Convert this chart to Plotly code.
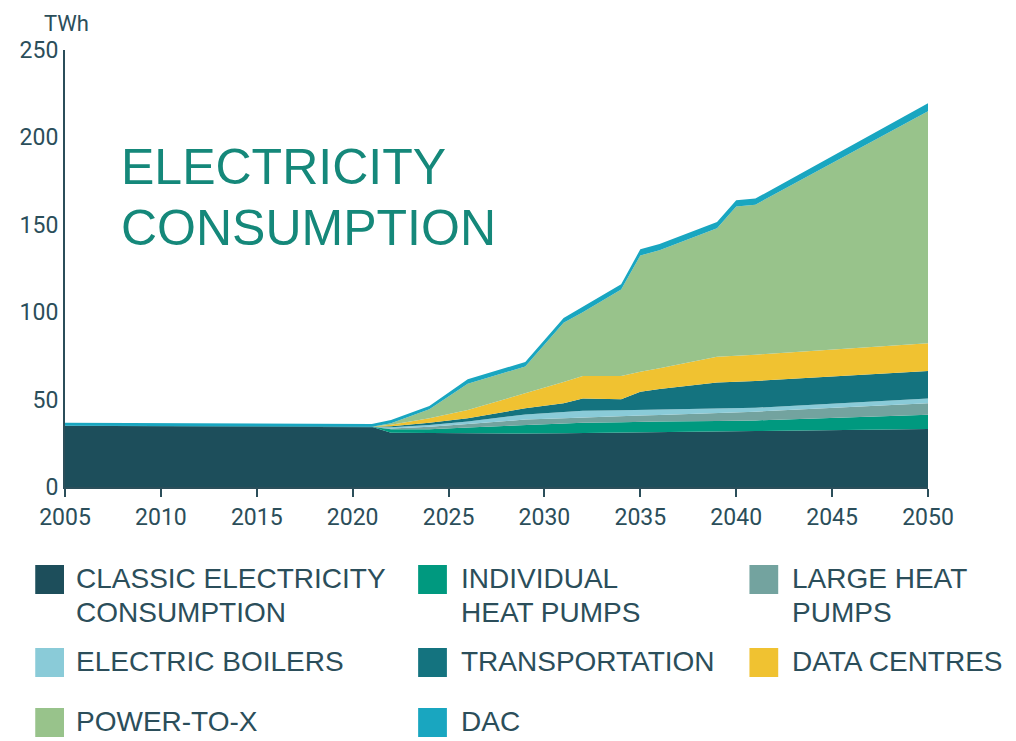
import plotly.graph_objects as go

# ---- data (TWh) ----
years = [2005, 2010, 2015, 2020, 2021, 2022, 2024, 2026, 2029, 2031, 2032, 2034,
         2035, 2036, 2039, 2040, 2041, 2050]
classic = [35.0, 34.8, 34.6, 34.5, 34.5, 31.0, 30.8, 30.7, 30.6, 30.7, 30.8, 31.0,
           31.2, 31.3, 31.7, 31.8, 32.0, 33.2]
ind_heat_pumps = [0, 0, 0, 0, 0, 2.0, 2.2, 3.4, 5.0, 5.7, 6.0, 6.0,
                  6.1, 6.1, 6.0, 6.0, 6.1, 8.2]
large_heat_pumps = [0, 0, 0, 0, 0, 0.5, 1.5, 1.9, 3.0, 2.9, 3.0, 3.4,
                    3.6, 3.8, 4.7, 4.9, 5.0, 6.5]
electric_boilers = [0, 0, 0, 0, 0, 0.7, 1.0, 1.4, 2.9, 3.7, 3.8, 3.5,
                    3.2, 3.0, 2.3, 2.2, 2.2, 2.8]
transportation = [0, 0, 0, 0, 0, 0.6, 1.3, 1.9, 3.5, 4.9, 7.1, 6.3,
                  10.4, 11.8, 15.1, 15.3, 15.4, 15.7]
data_centres = [0, 0, 0, 0, 0, 0.8, 2.5, 4.7, 8.5, 12.1, 12.8, 13.3,
                11.5, 12.0, 14.7, 14.8, 15.0, 15.8]
power_to_x = [0, 0, 0, 0, 0, 0.9, 5.2, 15.0, 15.5, 34.0, 36.5, 49.5,
              66.5, 67.5, 73.5, 85.5, 85.8, 132.8]
dac = [1.8, 1.7, 1.6, 1.5, 1.5, 1.8, 1.8, 2.6, 2.5, 2.7, 3.0, 3.0,
       3.5, 3.5, 3.6, 3.5, 3.5, 4.5]

series_names = ["CLASSIC ELECTRICITY CONSUMPTION", "INDIVIDUAL HEAT PUMPS",
                "LARGE HEAT PUMPS", "ELECTRIC BOILERS", "TRANSPORTATION",
                "DATA CENTRES", "POWER-TO-X", "DAC"]
series_values = [classic, ind_heat_pumps, large_heat_pumps, electric_boilers,
                 transportation, data_centres, power_to_x, dac]
series_colors = ["#1d4e5b", "#00997f", "#73a39f", "#8acbd8", "#14737f",
                 "#f0c231", "#98c38b", "#19a6c0"]

legend_lines = [["CLASSIC ELECTRICITY", "CONSUMPTION"], ["INDIVIDUAL", "HEAT PUMPS"],
                ["LARGE HEAT", "PUMPS"], ["ELECTRIC BOILERS"], ["TRANSPORTATION"],
                ["DATA CENTRES"], ["POWER-TO-X"], ["DAC"]]
x_ticks = [2005, 2010, 2015, 2020, 2025, 2030, 2035, 2040, 2045, 2050]
y_ticks = [0, 50, 100, 150, 200, 250]

TEXT = "#2b4e5a"
TITLE = "#15887a"
LABEL_FONT = "Liberation Sans, Roboto"

# page has an 8px body margin, so the figure is drawn 8px smaller
OFF = 8
W, H = 1016 - OFF, 741 - OFF
L, R, T, B = 58 - OFF, 88, 50 - OFF, 254
PW, PH = W - L - R, H - T - B


def px(x):
    """reference-screenshot x pixel -> paper coordinate"""
    return (x - OFF - L) / PW


def py(y):
    """reference-screenshot y pixel -> paper coordinate"""
    return (H - B - (y - OFF)) / PH


fig = go.Figure()
for name, vals, col in zip(series_names, series_values, series_colors):
    fig.add_trace(go.Scatter(x=years, y=vals, name=name, stackgroup="one",
                             mode="lines", line=dict(width=0, color=col),
                             fillcolor=col, showlegend=False))

shapes = []
annotations = []
col_icon_x = [28, 414, 748]
col_text_x = [67, 455, 789]
row_icon_top = [565, 648, 708]
positions = [(0, 0), (1, 0), (2, 0), (0, 1), (1, 1), (2, 1), (0, 2), (1, 2)]
for (c, r), lines, col in zip(positions, legend_lines, series_colors):
    x0 = col_icon_x[c]
    y0 = row_icon_top[r]
    shapes.append(dict(type="rect", xref="paper", yref="paper",
                       x0=px(x0), x1=px(x0 + 29), y0=py(y0), y1=py(y0 + 29),
                       fillcolor=col, line=dict(width=0), layer="above"))
    for i, ln in enumerate(lines):
        annotations.append(dict(text=ln, xref="paper", yref="paper",
                                x=px(col_text_x[c]), y=py(y0 + 13 + 34 * i),
                                xanchor="left", yanchor="middle", showarrow=False,
                                font=dict(family=LABEL_FONT, size=28, color=TEXT)))

annotations.append(dict(text="ELECTRICITY", xref="paper", yref="paper",
                        x=px(112), y=py(167), xanchor="left", yanchor="middle",
                        showarrow=False, font=dict(family=LABEL_FONT, size=50, color=TITLE)))
annotations.append(dict(text="CONSUMPTION", xref="paper", yref="paper",
                        x=px(112), y=py(228), xanchor="left", yanchor="middle",
                        showarrow=False, font=dict(family=LABEL_FONT, size=50, color=TITLE)))
annotations.append(dict(text="TWh", xref="paper", yref="paper",
                        x=px(60), y=py(24), xanchor="center", yanchor="middle",
                        showarrow=False, font=dict(family="Roboto", size=22, color=TEXT)))

fig.update_layout(
    width=W, height=H,
    margin=dict(l=L, r=R, t=T, b=B),
    paper_bgcolor="white", plot_bgcolor="white",
    shapes=shapes, annotations=annotations,
    xaxis=dict(range=[2005, 2050], tickvals=x_ticks, showgrid=False, zeroline=False,
               showline=True, linecolor=TEXT, linewidth=2, ticks="outside",
               ticklen=8, tickwidth=2, tickcolor=TEXT,
               tickfont=dict(family="Roboto", size=23, color=TEXT)),
    yaxis=dict(range=[0, 250], tickvals=y_ticks, showgrid=False, zeroline=False,
               showline=True, linecolor=TEXT, linewidth=2, ticks="",
               ticklabelstandoff=0,
               tickfont=dict(family="Roboto", size=23, color=TEXT)),
)

fig.write_html("out.html")
